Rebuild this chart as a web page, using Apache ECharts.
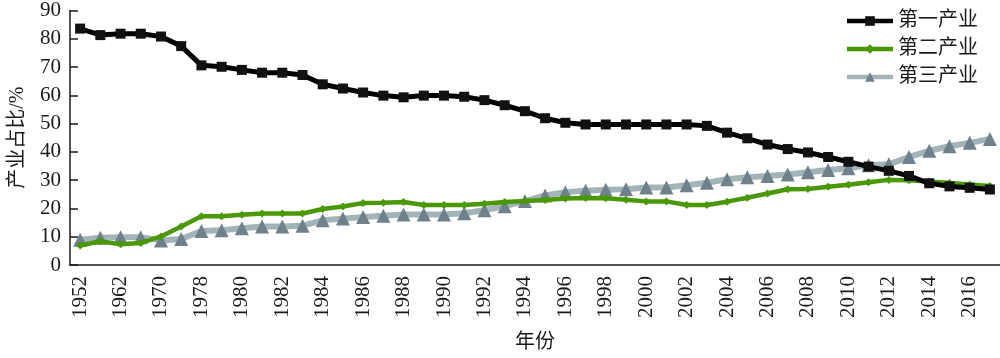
<!DOCTYPE html>
<html>
<head>
<meta charset="utf-8">
<script src="https://cdn.jsdelivr.net/npm/echarts@6/dist/echarts.min.js"></script>
<style>
html,body{margin:0;padding:0;background:#fff;}
#chart{width:1000px;height:358px;}
</style>
</head>
<body>
<div id="chart"></div>
<script>
var years = ['1952','1957','1962','1965','1970','1975','1978','1979','1980','1981','1982','1983','1984','1985','1986','1987','1988','1989','1990','1991','1992','1993','1994','1995','1996','1997','1998','1999','2000','2001','2002','2003','2004','2005','2006','2007','2008','2009','2010','2011','2012','2013','2014','2015','2016','2017'];
var primary = [83.6,81.3,81.8,81.8,80.8,77.4,70.6,70.1,69.0,68.0,68.0,67.2,63.9,62.4,61.0,59.9,59.3,59.9,59.9,59.5,58.3,56.5,54.4,51.9,50.3,49.7,49.7,49.7,49.7,49.7,49.7,49.2,46.8,44.8,42.6,41.0,39.8,38.2,36.5,34.8,33.3,31.5,28.9,27.8,27.3,26.7];
var secondary = [6.9,8.4,7.3,7.8,10.1,13.6,17.2,17.2,17.8,18.2,18.2,18.2,19.8,20.7,21.9,22.0,22.3,21.2,21.2,21.2,21.7,22.3,22.6,23.0,23.5,23.7,23.6,23.1,22.5,22.5,21.2,21.2,22.4,23.8,25.3,26.8,26.9,27.7,28.4,29.3,30.1,30.0,29.5,29.0,28.5,27.9];
var tertiary = [8.9,9.6,9.8,9.8,8.7,9.2,12.0,12.3,13.0,13.6,13.6,13.9,15.8,16.4,17.0,17.4,17.9,17.9,17.9,18.3,19.4,20.8,22.6,24.6,25.7,26.3,26.6,26.8,27.4,27.4,28.2,29.1,30.3,31.0,31.5,32.0,32.8,33.6,34.2,35.3,35.6,38.2,40.4,42.0,43.2,44.6];
var seriesNames = ['第一产业','第二产业','第三产业'];

var serif = 'Liberation Serif, Noto Sans CJK SC, serif';
var chart = echarts.init(document.getElementById('chart'));
chart.setOption({
  animation:false,
  backgroundColor:'#fff',
  grid:{left:62,right:0,top:7,bottom:78,containLabel:false},
  legend:{
    orient:'vertical',right:17,top:6,itemWidth:46,itemHeight:12,itemGap:8,
    lineStyle:{width:4.5},
    textStyle:{fontFamily:serif,fontSize:20,color:'#1a1a1a'},
    data:seriesNames
  },
  xAxis:{
    type:'category',data:years,boundaryGap:true,
    name:'年份',nameLocation:'middle',nameGap:68,
    nameTextStyle:{fontFamily:serif,fontSize:20,color:'#1a1a1a'},
    axisLine:{lineStyle:{color:'#1a1a1a',width:1.5}},
    axisTick:{inside:true,length:9,interval:1,alignWithLabel:true,lineStyle:{color:'#1a1a1a',width:1.5}},
    axisLabel:{interval:1,rotate:90,margin:11,fontFamily:serif,fontSize:21,color:'#1a1a1a'}
  },
  yAxis:{
    type:'value',min:0,max:90,interval:10,
    name:'产业占比/%',nameLocation:'middle',nameGap:42,nameRotate:90,
    nameTextStyle:{fontFamily:serif,fontSize:20,color:'#1a1a1a'},
    axisLine:{show:true,lineStyle:{color:'#1a1a1a',width:1.5}},
    axisTick:{show:true,inside:true,length:8,lineStyle:{color:'#1a1a1a',width:1.5}},
    splitLine:{show:false},
    axisLabel:{margin:9,fontFamily:serif,fontSize:21,color:'#1a1a1a'}
  },
  series:[
    {name:seriesNames[0],type:'line',data:primary,symbol:'rect',symbolSize:10,showAllSymbol:true,
     lineStyle:{color:'#000',width:5},itemStyle:{color:'#111'},z:3},
    {name:seriesNames[1],type:'line',data:secondary,symbol:'diamond',symbolSize:8,showAllSymbol:true,
     lineStyle:{color:'#4a9807',width:4.5},itemStyle:{color:'#4a9807'},z:2},
    {name:seriesNames[2],type:'line',data:tertiary,symbol:'triangle',symbolSize:14,showAllSymbol:true,
     lineStyle:{color:'#a3b4b9',width:6},itemStyle:{color:'#6f818b'},z:1}
  ]
});
</script>
</body>
</html>
